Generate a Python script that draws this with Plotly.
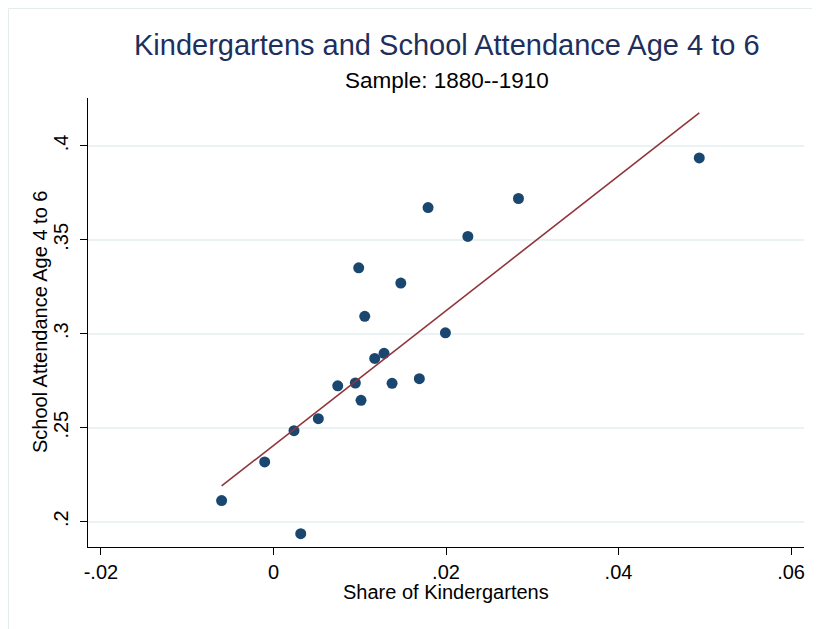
import plotly.graph_objects as go

# Data
share_kindergartens = [-0.00601, -0.00102, 0.00238, 0.00316, 0.00520, 0.00745, 0.00949,
                       0.01015, 0.00988, 0.01058, 0.01174, 0.01282, 0.01375, 0.01476,
                       0.01691, 0.01792, 0.01993, 0.02253, 0.02840, 0.04936]
school_attendance = [0.2112, 0.2318, 0.2484, 0.1936, 0.2548, 0.2723, 0.2738,
                     0.2646, 0.3351, 0.3093, 0.2869, 0.2896, 0.2736, 0.3270,
                     0.2761, 0.3672, 0.3005, 0.3518, 0.3720, 0.3936]
fit_x = [-0.00601, 0.04936]
fit_y = [0.2190, 0.4176]

x_ticks = [-0.02, 0, 0.02, 0.04, 0.06]
x_tick_labels = ["-.02", "0", ".02", ".04", ".06"]
y_ticks = [0.2, 0.25, 0.3, 0.35, 0.4]
y_tick_labels = [".2", ".25", ".3", ".35", ".4"]

FONT = "Liberation Sans, Arial, Helvetica, sans-serif"
OFF = 8  # page body margin offset
W, H = 820, 629
L, T = 88 - OFF, 98 - OFF
R = W - (804 - OFF)
B = H - (547 - OFF)
PW, PH = W - L - R, H - T - B


def px_x(px):
    # screen pixel -> paper coordinate
    return (px - OFF - L) / PW


def px_y(py):
    return (H - B - (py - OFF)) / PH


fig = go.Figure()
fig.add_trace(go.Scatter(
    x=share_kindergartens, y=school_attendance, mode="markers",
    marker=dict(size=11, color="#1a476f", line=dict(width=0)),
    showlegend=False, hoverinfo="x+y"))
fig.add_trace(go.Scatter(
    x=fit_x, y=fit_y, mode="lines",
    line=dict(color="#90353b", width=1.6),
    showlegend=False))

fig.update_layout(
    width=W, height=H,
    margin=dict(l=L, r=R, t=T, b=B, autoexpand=False),
    paper_bgcolor="white", plot_bgcolor="white",
    font=dict(family=FONT, color="black", size=20),
    xaxis=dict(
        range=[-0.0215, 0.0615], tickvals=x_ticks, ticktext=x_tick_labels,
        showgrid=False, zeroline=False, automargin=False,
        showline=True, linecolor="black", linewidth=1,
        ticks="outside", ticklen=7, tickcolor="black", tickwidth=1,
        tickfont=dict(size=20)),
    yaxis=dict(
        range=[0.1865, 0.4255], tickvals=y_ticks, ticktext=y_tick_labels,
        tickangle=-90, automargin=False, ticklabelstandoff=4,
        showgrid=True, gridcolor="#eaf2f3", gridwidth=1.5,
        zeroline=False,
        showline=True, linecolor="black", linewidth=1,
        ticks="outside", ticklen=7, tickcolor="black", tickwidth=1,
        tickfont=dict(size=20)),
    annotations=[
        dict(text="Kindergartens and School Attendance Age 4 to 6",
             xref="paper", yref="paper", x=px_x(447), y=px_y(45),
             xanchor="center", yanchor="middle", showarrow=False,
             font=dict(family=FONT, size=29, color="#1e2f5c")),
        dict(text="Sample: 1880--1910",
             xref="paper", yref="paper", x=px_x(446.5), y=px_y(80),
             xanchor="center", yanchor="middle", showarrow=False,
             font=dict(family=FONT, size=22.5, color="black")),
        dict(text="Share of Kindergartens",
             xref="paper", yref="paper", x=px_x(446), y=px_y(592),
             xanchor="center", yanchor="middle", showarrow=False,
             font=dict(family=FONT, size=20, color="black")),
        dict(text="School Attendance Age 4 to 6",
             xref="paper", yref="paper", x=px_x(40), y=px_y(322),
             xanchor="center", yanchor="middle", showarrow=False, textangle=-90,
             font=dict(family=FONT, size=20, color="black")),
    ],
    shapes=[dict(type="rect", xref="paper", yref="paper",
                 x0=px_x(8.5), x1=px_x(840),
                 y0=px_y(660), y1=px_y(8.5),
                 line=dict(color="#e4ecee", width=1), fillcolor="rgba(0,0,0,0)",
                 layer="below")],
)

fig.write_html("out.html")
